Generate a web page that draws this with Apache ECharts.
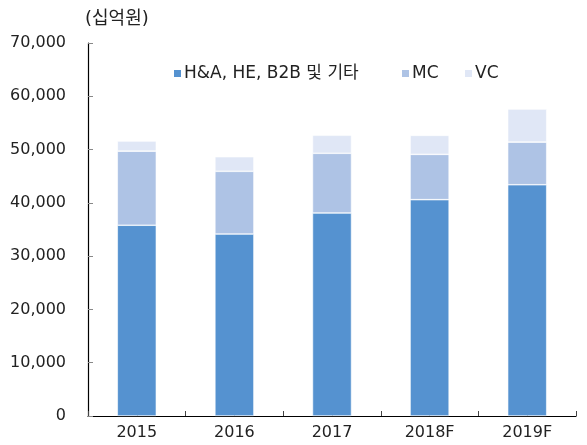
<!DOCTYPE html>
<html>
<head>
<meta charset="utf-8">
<script src="https://cdn.jsdelivr.net/npm/echarts@6/dist/echarts.min.js"></script>
<style>
  html, body { margin: 0; padding: 0; background: #fff; }
  #main { width: 587px; height: 445px; }
</style>
</head>
<body>
<div id="main"></div>
<script>
var years = ['2015', '2016', '2017', '2018F', '2019F'];
var haData = [35800, 34150, 38100, 40600, 43400];
var mcData = [13900, 11770, 11200, 8500, 8000];
var vcData = [1900, 2740, 3380, 3570, 6200];
var seriesNames = ['H&A, HE, B2B 및 기타', 'MC', 'VC'];
var colorList = ['#5592d0', '#aec3e5', '#e0e7f6'];

var fontFamily = '"DejaVu Sans", "Noto Sans CJK KR", sans-serif';

function barSeries(name, data, color) {
    return {
        name: name,
        type: 'bar',
        stack: 'total',
        barWidth: '40%',
        data: data,
        itemStyle: { color: color, borderColor: '#ffffff', borderWidth: 0.6 }
    };
}

// 범례 항목마다 위치를 따로 잡음
function legendItem(name, left) {
    return {
        top: 60,
        left: left,
        itemWidth: 9,
        itemHeight: 9,
        icon: 'rect',
        textStyle: { fontSize: 17, color: '#222', padding: [0, 0, 0, -3] },
        data: [name]
    };
}

var option = {
    animation: false,
    textStyle: { fontFamily: fontFamily },
    grid: { left: 88, right: 11, top: 43, bottom: 29 },
    graphic: [{
        type: 'text',
        left: 85,
        top: 10,
        style: { text: '(십억원)', fontSize: 18, fill: '#222', fontFamily: fontFamily }
    }],
    legend: [
        legendItem(seriesNames[0], 167),
        legendItem(seriesNames[1], 395),
        legendItem(seriesNames[2], 458)
    ],
    xAxis: [
        {
            type: 'category',
            data: years,
            axisLine: { lineStyle: { color: '#000', width: 1.2 } },
            axisTick: { show: true, inside: true, length: 5, lineStyle: { color: '#444' } },
            axisLabel: { fontSize: 16, color: '#222', margin: 9 }
        },
        {
            // 가운데 눈금용 보조축
            type: 'category',
            data: years,
            position: 'bottom',
            axisLine: { show: false },
            axisTick: { show: true, inside: true, alignWithLabel: true, length: 5, lineStyle: { color: '#444' } },
            axisLabel: { show: false }
        }
    ],
    yAxis: {
        type: 'value',
        min: 0,
        max: 70000,
        interval: 10000,
        splitLine: { show: false },
        axisLine: { show: true, lineStyle: { color: '#000', width: 1.2 } },
        axisTick: { show: true, inside: true, length: 5, lineStyle: { color: '#888' } },
        axisLabel: {
            fontSize: 16,
            color: '#222',
            margin: 22,
            formatter: function (v) { return v.toLocaleString('en-US'); }
        }
    },
    series: [
        barSeries(seriesNames[0], haData, colorList[0]),
        barSeries(seriesNames[1], mcData, colorList[1]),
        barSeries(seriesNames[2], vcData, colorList[2])
    ]
};

var chart = echarts.init(document.getElementById('main'));
chart.setOption(option);
</script>
</body>
</html>
